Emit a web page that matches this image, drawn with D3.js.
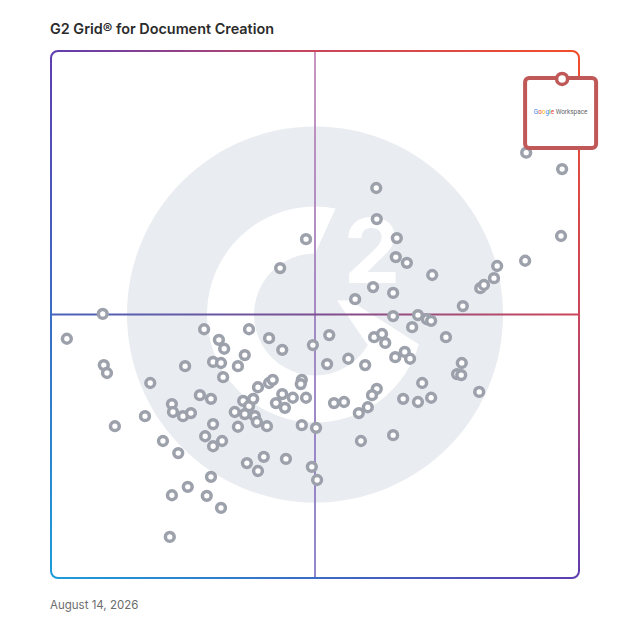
<!DOCTYPE html>
<html>
<head>
<meta charset="utf-8">
<script src="https://cdn.jsdelivr.net/npm/d3@7"></script>
<style>
  html, body { margin: 0; padding: 0; background: #fff; }
  svg { display: block; }
</style>
</head>
<body>
<svg id="chart" width="628" height="628"></svg>
<script>
const title = "G2 Grid\u00AE for Document Creation";
const dateLabel = "August 14, 2026";

// Satisfaction (x) and Market Presence (y), 0–100
const satisfaction = [9.8,3.0,10.0,10.6,12.1,17.8,18.8,21.2,24.1,22.5,
  22.9,25.9,29.5,32.2,30.3,29.0,31.8,32.8,37.5,41.3,
  43.8,25.4,30.7,32.2,36.7,35.4,32.6,39.2,41.3,42.0,
  28.2,30.3,22.9,23.1,25.0,26.5,30.7,29.2,30.7,32.4,
  34.8,36.4,37.5,38.3,36.7,38.6,39.0,40.9,35.4,43.8,
  42.6,44.3,45.8,47.5,47.3,48.3,47.5,50.2,49.6,40.3,
  37.1,39.2,44.5,49.4,50.4,48.3,43.4,61.6,61.7,65.5,
  65.3,67.4,72.2,61.0,64.8,57.6,78.0,90.0,96.8,96.6,
  89.8,84.5,83.9,81.3,82.0,64.8,69.5,71.2,72.0,68.4,
  74.8,52.7,61.2,62.7,63.3,52.3,56.3,59.5,65.2,67.0,
  68.0,77.8,76.9,77.7,70.3,81.1,61.7,60.8,66.7,69.5,
  72.0,53.6,55.5,60.0,58.3,64.8,58.7];
const marketPresence = [50.1,45.4,40.4,38.9,28.8,30.7,37.0,26.0,23.7,7.8,
  15.7,17.3,15.6,13.3,19.2,47.2,45.2,43.5,47.2,45.5,
  43.3,40.2,41.0,40.8,42.3,40.2,38.1,36.2,37.0,37.6,
  34.7,34.0,33.0,31.5,30.7,31.3,29.2,26.9,25.0,26.0,
  31.5,33.6,32.6,34.0,31.1,30.7,29.6,28.8,28.7,34.9,
  33.2,32.3,34.2,37.6,36.8,34.2,29.0,28.5,44.2,23.0,
  21.8,20.3,22.6,21.1,18.6,64.3,58.8,74.0,68.1,64.5,
  60.9,59.8,57.5,55.2,54.1,52.9,51.6,80.7,77.6,64.9,
  60.2,59.2,56.9,55.0,55.6,49.7,49.9,49.1,48.8,47.6,
  45.7,46.1,45.7,46.3,44.6,40.6,41.6,40.4,41.9,42.9,
  41.6,40.8,38.7,38.5,37.0,35.3,35.9,34.7,34.0,33.4,
  34.2,33.2,33.4,32.4,31.3,27.1,26.0];

const featuredNames = ["Google Workspace"];
const featuredSatisfaction = [96.8];
const featuredPresence = [94.7];

const points = satisfaction.map((s, i) => ({ s, m: marketPresence[i] }));
const featured = featuredNames.map((n, i) => ({ name: n, s: featuredSatisfaction[i], m: featuredPresence[i] }));

const svg = d3.select("#chart");
const gLeft = 51, gRight = 579, gTop = 51, gBottom = 578;
const x = d3.scaleLinear().domain([0, 100]).range([gLeft, gRight]);
const y = d3.scaleLinear().domain([0, 100]).range([gBottom, gTop]);

const defs = svg.append("defs");
function makeGrad(id, x1, y1, x2, y2, stops) {
  const g = defs.append("linearGradient").attr("id", id)
    .attr("gradientUnits", "userSpaceOnUse")
    .attr("x1", x1).attr("y1", y1).attr("x2", x2).attr("y2", y2);
  stops.forEach(([o, c]) => g.append("stop").attr("offset", o).attr("stop-color", c));
}
// border gradient along anti-diagonal (top-right red -> bottom-left blue)
makeGrad("borderGrad", gRight, gTop, gLeft, gBottom,
  [[0, "#f24d2a"], [0.25, "#c9465c"], [0.5, "#5f3db0"], [0.75, "#3a6cc6"], [1, "#1c9cda"]]);
makeGrad("vGrad", 0, gTop, 0, gBottom, [[0, "#c28ab8"], [0.5, "#9d7fbf"], [1, "#867ac6"]]);
makeGrad("hGrad", gLeft, 0, gRight, 0, [[0, "#4a64bb"], [0.5, "#7c4e92"], [1, "#cc4759"]]);

// Title
svg.append("text").attr("x", 50).attr("y", 34)
  .attr("font-family", "Inter, 'Open Sans', sans-serif").attr("font-weight", 600)
  .attr("font-size", 14.4).attr("fill", "#2b2b2b").text(title);

// Watermark logo
const cx = x(50), cy = y(50);
const logo = svg.append("g").attr("transform", `translate(${cx},${cy})`);
logo.append("circle").attr("r", 188).attr("fill", "#e9ecf0");
const rad = a => a * Math.PI / 180;
const Ro = 108, Ri = 61;
const pt = (r, a) => [r * Math.cos(rad(a)), r * Math.sin(rad(a))];
const gPath = d3.path();
const outStart = pt(Ro, -79);
gPath.moveTo(0, -Ri);
gPath.lineTo(outStart[0], outStart[1]);
gPath.arc(0, 0, Ro, rad(-79), rad(-344), true);
gPath.lineTo(35, -14);
gPath.lineTo(22, -14);
const inEnd = pt(Ri, 30);
gPath.lineTo(inEnd[0], inEnd[1]);
gPath.arc(0, 0, Ri, rad(30), rad(270), false);
gPath.closePath();
logo.append("path").attr("d", gPath.toString()).attr("fill", "#ffffff");
logo.append("text").attr("x", 57).attr("y", -32).attr("text-anchor", "middle")
  .attr("font-family", "Inter, 'Open Sans', sans-serif").attr("font-weight", 700)
  .attr("font-size", 90).attr("fill", "#ffffff").text("2");

// Mid lines
svg.append("line").attr("x1", x(50)).attr("x2", x(50)).attr("y1", gTop).attr("y2", gBottom)
  .attr("stroke", "url(#vGrad)").attr("stroke-width", 1.8);
svg.append("line").attr("x1", gLeft).attr("x2", gRight).attr("y1", y(50)).attr("y2", y(50))
  .attr("stroke", "url(#hGrad)").attr("stroke-width", 1.8);

// Border
svg.append("rect").attr("x", gLeft).attr("y", gTop)
  .attr("width", gRight - gLeft).attr("height", gBottom - gTop)
  .attr("rx", 7).attr("fill", "none")
  .attr("stroke", "url(#borderGrad)").attr("stroke-width", 2);

// Points
svg.append("g").selectAll("circle").data(points).join("circle")
  .attr("cx", d => x(d.s)).attr("cy", d => y(d.m)).attr("r", 4.4)
  .attr("fill", "#ffffff").attr("stroke", "#9ca1ab").attr("stroke-width", 3.5);

// Featured product
const boxColor = "#c05858";
const fg = svg.append("g").selectAll("g").data(featured).join("g")
  .attr("transform", d => `translate(${x(d.s)},${y(d.m)})`);
fg.append("rect").attr("x", -37).attr("y", -1).attr("width", 71).attr("height", 70)
  .attr("rx", 4).attr("fill", "#ffffff").attr("stroke", boxColor).attr("stroke-width", 4);
fg.append("circle").attr("r", 5.5).attr("fill", "#ffffff")
  .attr("stroke", boxColor).attr("stroke-width", 3.5);
const lbl = fg.append("text").attr("x", -1.5).attr("y", 35.5).attr("text-anchor", "middle")
  .attr("font-family", "Roboto, 'Open Sans', sans-serif").attr("font-size", 6.4);
const gColors = ["#4285F4", "#EA4335", "#FBBC05", "#4285F4", "#34A853", "#EA4335"];
"Google".split("").forEach((ch, i) => lbl.append("tspan").attr("fill", gColors[i]).text(ch));
lbl.append("tspan").attr("fill", "#5f6368").text(" Workspace");

// Date
svg.append("text").attr("x", 50).attr("y", 609)
  .attr("font-family", "Inter, 'Open Sans', sans-serif")
  .attr("font-size", 11.5).attr("fill", "#6b6b6b").text(dateLabel);
</script>
</body>
</html>
